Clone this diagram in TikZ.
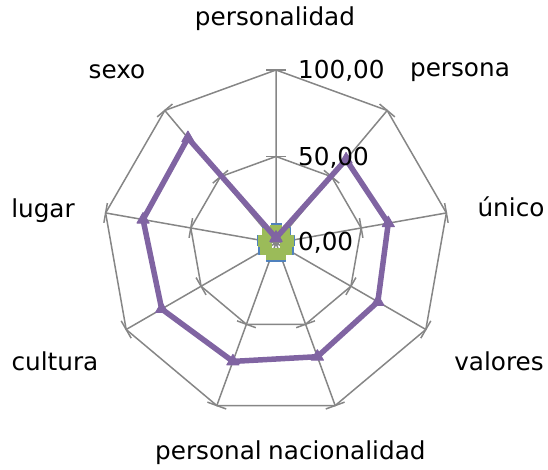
\documentclass[tikz,border=0pt]{standalone}
\usepackage{fontspec}
\setmainfont{DejaVu Sans}
\usetikzlibrary{plotmarks}

\definecolor{gridgray}{HTML}{868686}
\definecolor{serpurple}{HTML}{8064A2}
\definecolor{sergreen}{HTML}{9BBB59}
\definecolor{serred}{HTML}{C0504D}
\definecolor{serblue}{HTML}{4F81BD}

\begin{document}
\begin{tikzpicture}[x=1pt,y=1pt,
		grid line/.style={gridgray,line width=1.5pt},
		label node/.style={inner sep=0pt,font=\fontsize{24.7}{29}\selectfont},
		value node/.style={label node,anchor=base west},
		series/.style={line width=5.5pt,line join=round,mark size=7pt,
			mark options={line width=1pt}}]
	\useasboundingbox (-276,-227) rectangle (272,243);
	%
	% Outer ends of the nine axes, clockwise from the top.
	\coordinate (c) at (0,0);
	\coordinate (0) at (90:173);
	\coordinate (1) at (50:173);
	\coordinate (2) at (10:173);
	\coordinate (3) at (-30:173);
	\coordinate (4) at (-70:173);
	\coordinate (5) at (-110:173);
	\coordinate (6) at (-150:173);
	\coordinate (7) at (170:173);
	\coordinate (8) at (130:173);
	%
	% The ring at 50.
	\coordinate (10) at (90:86.5);
	\coordinate (11) at (50:86.5);
	\coordinate (12) at (10:86.5);
	\coordinate (13) at (-30:86.5);
	\coordinate (14) at (-70:86.5);
	\coordinate (15) at (-110:86.5);
	\coordinate (16) at (-150:86.5);
	\coordinate (17) at (170:86.5);
	\coordinate (18) at (130:86.5);
	%
	% Grid: rings, spokes and ticks.
	\draw[grid line] (0) -- (1) -- (2) -- (3) -- (4) -- (5) -- (6) -- (7) -- (8) -- cycle;
	\draw[grid line] (10) -- (11) -- (12) -- (13) -- (14) -- (15) -- (16) -- (17) -- (18) -- cycle;
	\draw[grid line]
		(c) -- (0) (c) -- (1) (c) -- (2) (c) -- (3) (c) -- (4)
		(c) -- (5) (c) -- (6) (c) -- (7) (c) -- (8);
	\draw[grid line,rotate=90] (86.5,-10) -- (86.5,10) (173,-10) -- (173,10);
	\draw[grid line,rotate=50] (86.5,-10) -- (86.5,10) (173,-10) -- (173,10);
	\draw[grid line,rotate=10] (86.5,-10) -- (86.5,10) (173,-10) -- (173,10);
	\draw[grid line,rotate=-30] (86.5,-10) -- (86.5,10) (173,-10) -- (173,10);
	\draw[grid line,rotate=-70] (86.5,-10) -- (86.5,10) (173,-10) -- (173,10);
	\draw[grid line,rotate=-110] (86.5,-10) -- (86.5,10) (173,-10) -- (173,10);
	\draw[grid line,rotate=-150] (86.5,-10) -- (86.5,10) (173,-10) -- (173,10);
	\draw[grid line,rotate=170] (86.5,-10) -- (86.5,10) (173,-10) -- (173,10);
	\draw[grid line,rotate=130] (86.5,-10) -- (86.5,10) (173,-10) -- (173,10);
	%
	% Small series packed round the centre.
	\draw[series,serblue,line width=3pt,mark size=5pt] plot[mark=square*] coordinates
		{(90:14) (50:14) (10:14) (-30:14) (-70:14) (-110:14) (-150:14) (170:14) (130:14) (90:14)};
	\draw[series,serred,line width=3pt,mark size=5pt] plot[mark=triangle*] coordinates
		{(90:12) (50:12) (10:12) (-30:12) (-70:12) (-110:12) (-150:12) (170:12) (130:12) (90:12)};
	\draw[series,sergreen,mark size=5.5pt] plot[mark=square*] coordinates
		{(90:12) (50:12) (10:12) (-30:12) (-70:12) (-110:12) (-150:12) (170:12) (130:12) (90:12)};
	%
	% Purple series.
	\coordinate (20) at (90:5);
	\coordinate (21) at (50:109);
	\coordinate (22) at (10:114);
	\coordinate (23) at (-30:117.6);
	\coordinate (24) at (-70:121);
	\coordinate (25) at (-110:126);
	\coordinate (26) at (-150:132);
	\coordinate (27) at (170:135);
	\coordinate (28) at (130:137);
	\draw[series,serpurple] plot[mark=triangle*] coordinates
		{(20) (21) (22) (23) (24) (25) (26) (27) (28) (20)};
	%
	% Value labels.
	\node[value node] (200) at (22,164) {100,00};
	\node[value node] (201) at (22,77) {50,00};
	\node[value node] (202) at (22,-8) {0,00};
	%
	% Category labels.
	\node[label node,anchor=base] (100) at (-1,217) {personalidad};
	\node[label node,anchor=base] (101) at (184,166) {persona};
	\node[label node,anchor=base] (102) at (235,26) {único};
	\node[label node,anchor=base] (103) at (223,-128) {valores};
	\node[label node,anchor=base west] (104) at (-8,-216) {nacionalidad};
	\node[label node,anchor=base east] (105) at (-14,-216) {personal};
	\node[label node,anchor=base] (106) at (-221,-128) {cultura};
	\node[label node,anchor=base] (107) at (-233,25) {lugar};
	\node[label node,anchor=base] (108) at (-159,164) {sexo};
\end{tikzpicture}
\end{document}
